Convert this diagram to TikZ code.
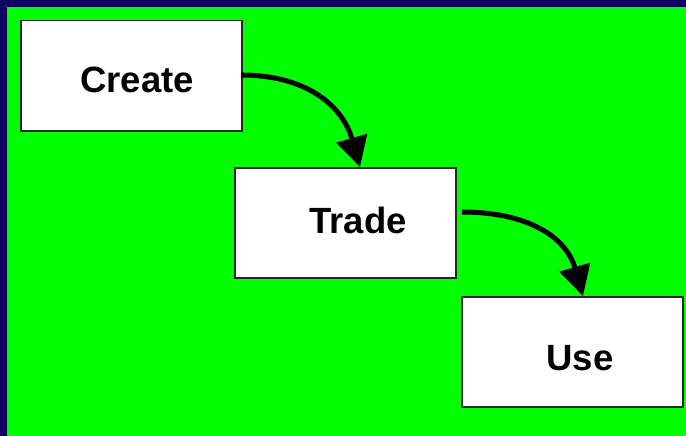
\documentclass[tikz,border=0pt]{standalone}
\usepackage{fontspec}
\setmainfont{Liberation Sans}
\usetikzlibrary{arrows.meta}
\definecolor{navy}{RGB}{16,0,96}
\definecolor{bggreen}{RGB}{0,255,0}
\begin{document}
\begin{tikzpicture}[x=1pt,y=-1pt,
  box/.style={draw=black!85,line width=1.5pt,fill=white,minimum width=221pt,minimum height=110pt,inner sep=0pt,anchor=north west},
  lbl/.style={font=\fontsize{36.5}{40}\selectfont\bfseries},
  flow/.style={line width=5pt,-{Triangle[length=30pt,width=31pt]}}]
\useasboundingbox (0,0) rectangle (686,436);
\fill[navy] (0,0) rectangle (686,436);
\fill[bggreen] (7,7) rectangle (686,436);
\node[box] (create) at (20,20) {};
\node[box] (trade) at (234,167) {};
\node[box] (use) at (461,296) {};
\node[lbl] (tcreate) at (137,80) {Create};
\node[lbl] (ttrade) at (358,220) {Trade};
\node[lbl] (tuse) at (580,358) {Use};
\coordinate (s1) at (241,75);
\coordinate (e1) at (360,167);
\coordinate (s2) at (462,212);
\coordinate (e2) at (583,296);
\draw[flow] (s1) to[out=0,in=106,looseness=1.1] (e1);
\draw[flow] (s2) to[out=0,in=106,looseness=1.1] (e2);
\end{tikzpicture}
\end{document}
